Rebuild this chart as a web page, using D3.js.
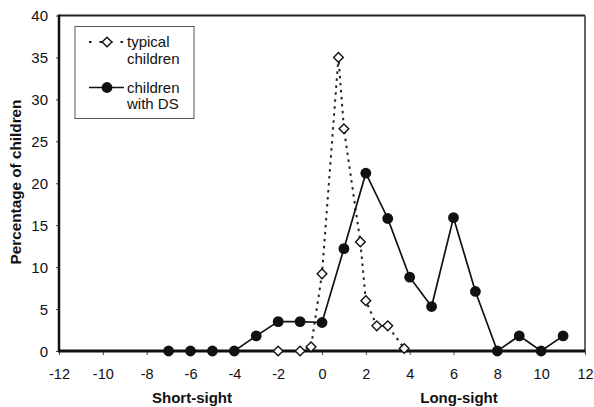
<!DOCTYPE html>
<html>
<head>
    <meta charset="UTF-8" />
    <title>Refraction distribution</title>
    <script src="https://d3js.org/d3.v7.min.js"></script>
</head>
<style type="text/css">
body {
    margin: 0;
    background-color: white;
    font-family: "Liberation Sans", Arial, sans-serif;
}
.tick text {
    font-size: 14.5px;
    fill: #111;
}
.yax .tick text {
    font-size: 15px;
}
.legend text {
    font-size: 15px;
    fill: #111;
}
</style>
<body>
    <svg width=594 height=407 id="chart"></svg>
</body>
<script type="text/javascript">
// data (dioptres vs % of children)
var typicalX = [-2, -1, -0.5, 0, 0.75, 1, 1.75, 2, 2.5, 3, 3.75];
var typicalY = [0, 0, 0.5, 9.2, 35, 26.5, 13, 6, 3, 3, 0.3];

var dsX = [-7, -6, -5, -4, -3, -2, -1, 0, 1, 2, 3, 4, 5, 6, 7, 8, 9, 10, 11];
var dsY = [0, 0, 0, 0, 1.8, 3.5, 3.5, 3.4, 12.2, 21.2, 15.8, 8.8, 5.3, 15.9, 7.1, 0, 1.8, 0, 1.8];

var xTicks = [-12, -10, -8, -6, -4, -2, 0, 2, 4, 6, 8, 10, 12];
var yTicks = [0, 5, 10, 15, 20, 25, 30, 35, 40];

var legendNames = [["typical", "children"], ["children", "with DS"]];

var svg = d3.select("#chart");

// plot box (window.top is reserved, so plain names are avoided)
var pLeft = 59, pRight = 585, pTop = 15.5, pBottom = 351;

var x = d3.scaleLinear().domain([-12, 12]).range([pLeft, pRight]);
var y = d3.scaleLinear().domain([0, 40]).range([pBottom, pTop]);

// frame: thin top / right
svg.append("line").attr("x1", pLeft).attr("x2", pRight).attr("y1", pTop).attr("y2", pTop)
    .attr("stroke", "#222").attr("stroke-width", 2);
svg.append("line").attr("x1", pRight).attr("x2", pRight).attr("y1", pTop).attr("y2", pBottom)
    .attr("stroke", "#333").attr("stroke-width", 1.5);

// axes
var xAxis = svg.append("g").attr("transform", "translate(0," + pBottom + ")")
    .call(d3.axisBottom(x).tickValues(xTicks).tickSize(4).tickPadding(14).tickFormat(d3.format("d")));
var yAxis = svg.append("g").attr("class", "yax").attr("transform", "translate(" + pLeft + ",0)")
    .call(d3.axisLeft(y).tickValues(yTicks).tickSize(3).tickPadding(8).tickFormat(d3.format("d")));

xAxis.select(".domain").remove();
yAxis.select(".domain").remove();
xAxis.selectAll(".tick line").attr("stroke", "#444");
yAxis.selectAll(".tick line").attr("stroke", "#444");
xAxis.selectAll(".tick text").text(function(d) { return d < 0 ? "-" + Math.abs(d) : d; });
yAxis.selectAll(".tick text").attr("dy", "0.36em");

// thick left axis line
svg.append("line").attr("x1", pLeft).attr("x2", pLeft).attr("y1", pTop - 1).attr("y2", pBottom + 1)
    .attr("stroke", "#111").attr("stroke-width", 2.5);

// series
var typical = typicalX.map(function(d, i) { return [d, typicalY[i]]; });
var ds = dsX.map(function(d, i) { return [d, dsY[i]]; });

var line = d3.line().x(function(d) { return x(d[0]); }).y(function(d) { return y(d[1]); });

// typical children, dotted line
svg.append("path").datum(typical).attr("d", line)
    .attr("fill", "none").attr("stroke", "#222").attr("stroke-width", 2)
    .attr("stroke-dasharray", "2.5,4.5");

// children with DS, solid line
svg.append("path").datum(ds).attr("d", line)
    .attr("fill", "none").attr("stroke", "#111").attr("stroke-width", 1.7);

// thick bottom axis line
svg.append("line").attr("x1", pLeft - 1).attr("x2", pRight).attr("y1", pBottom).attr("y2", pBottom)
    .attr("stroke", "#111").attr("stroke-width", 3);

var diamond = d3.symbol().type(d3.symbolDiamond2).size(60);

svg.append("g").selectAll("path").data(typical).enter()
    .append("path").attr("d", diamond)
    .attr("transform", function(d) { return "translate(" + x(d[0]) + "," + y(d[1]) + ")"; })
    .attr("fill", "white").attr("stroke", "#111").attr("stroke-width", 1.4);

svg.append("g").selectAll("circle").data(ds).enter()
    .append("circle").attr("r", 5.4)
    .attr("cx", function(d) { return x(d[0]); })
    .attr("cy", function(d) { return y(d[1]); })
    .attr("fill", "#111");

// legend
var lg = svg.append("g").attr("class", "legend");
lg.append("rect").attr("x", 75).attr("y", 26.5).attr("width", 119).attr("height", 92)
    .attr("fill", "white").attr("stroke", "#555").attr("stroke-width", 1);

lg.append("line").attr("x1", 89).attr("x2", 125).attr("y1", 42).attr("y2", 42)
    .attr("stroke", "#222").attr("stroke-width", 2).attr("stroke-dasharray", "2.5,8");
lg.append("path").attr("d", diamond).attr("transform", "translate(107,42)")
    .attr("fill", "white").attr("stroke", "#111").attr("stroke-width", 1.4);

lg.append("line").attr("x1", 89).attr("x2", 124).attr("y1", 87.5).attr("y2", 87.5)
    .attr("stroke", "#111").attr("stroke-width", 1.7);
lg.append("circle").attr("cx", 107).attr("cy", 87.5).attr("r", 5.4).attr("fill", "#111");

var legendY = [47, 92.5];
legendNames.forEach(function(n, i) {
    var t = lg.append("text").attr("x", 127).attr("y", legendY[i]);
    t.append("tspan").attr("x", 127).text(n[0]);
    t.append("tspan").attr("x", 127).attr("dy", 16.7).text(n[1]);
});

// axis titles
svg.append("text").attr("transform", "translate(21,182) rotate(-90)")
    .attr("text-anchor", "middle").attr("font-size", "15.3px").attr("font-weight", "bold")
    .attr("fill", "#111").text("Percentage of children");

svg.append("text").attr("x", 192).attr("y", 403).attr("text-anchor", "middle")
    .attr("font-size", "15px").attr("font-weight", "bold").attr("fill", "#111").text("Short-sight");
svg.append("text").attr("x", 459).attr("y", 403).attr("text-anchor", "middle")
    .attr("font-size", "15px").attr("font-weight", "bold").attr("fill", "#111").text("Long-sight");
</script>
</html>
